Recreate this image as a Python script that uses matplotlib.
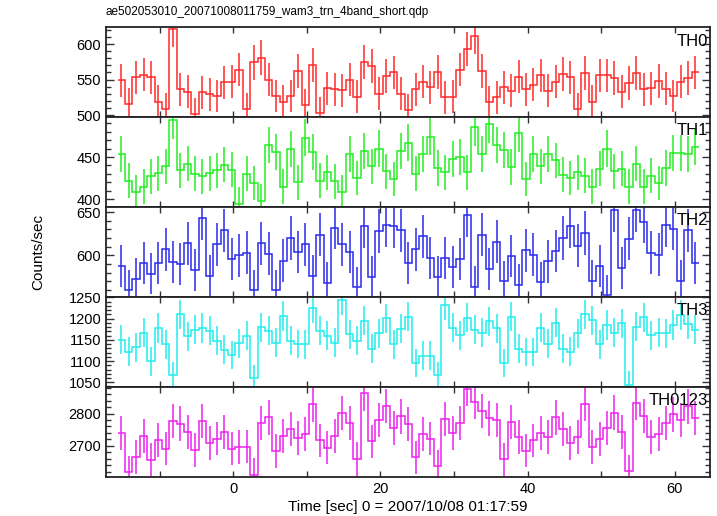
import numpy as np
import matplotlib
matplotlib.use("Agg")
import matplotlib.pyplot as plt
from matplotlib.ticker import MultipleLocator, FixedLocator

plt.rcParams['font.family'] = ['Liberation Sans', 'DejaVu Sans']

title = "ae502053010_20071008011759_wam3_trn_4band_short.qdp"
xlabel = "Time [sec] 0 = 2007/10/08 01:17:59"
ylabel = "Counts/sec"

t_start = -15.2
bin_width = 1.0

th0 = [549, 515, 553, 557, 553, 519, 509, 621, 536, 533, 501, 532, 529, 527, 546, 547,
       564, 508, 574, 581, 550, 527, 519, 527, 562, 514, 571, 503, 538, 536, 535, 550,
       526, 575, 569, 530, 555, 560, 530, 507, 536, 547, 539, 561, 525, 526, 564, 593,
       611, 562, 518, 525, 539, 534, 554, 536, 543, 556, 534, 547, 558, 553, 509, 559,
       519, 556, 556, 552, 533, 545, 559, 536, 538, 548, 537, 527, 547, 552, 560]
th1 = [454, 422, 408, 415, 427, 431, 439, 494, 434, 442, 430, 427, 431, 434, 441, 435,
       394, 430, 419, 398, 464, 456, 415, 459, 420, 473, 456, 422, 432, 421, 408, 454,
       425, 457, 439, 460, 433, 424, 457, 467, 430, 454, 474, 437, 432, 448, 450, 432,
       485, 454, 489, 464, 458, 438, 478, 424, 454, 439, 454, 446, 429, 425, 432, 428,
       415, 436, 460, 433, 436, 415, 442, 415, 428, 419, 437, 455, 455, 454, 462]
th2 = [588, 560, 573, 591, 579, 591, 607, 592, 590, 614, 583, 643, 576, 613, 629, 596,
       600, 603, 560, 614, 602, 560, 594, 620, 604, 613, 576, 624, 568, 632, 613, 604,
       563, 634, 575, 628, 635, 634, 629, 591, 607, 622, 597, 575, 597, 587, 596, 647,
       564, 624, 584, 616, 570, 599, 566, 606, 601, 569, 593, 605, 620, 634, 611, 626,
       571, 588, 554, 652, 586, 619, 652, 639, 603, 601, 635, 631, 571, 629, 591]
th3 = [1150, 1122, 1132, 1167, 1099, 1178, 1139, 1066, 1210, 1158, 1174, 1178, 1172, 1148, 1127, 1115,
       1142, 1160, 1059, 1180, 1172, 1143, 1206, 1148, 1140, 1139, 1224, 1172, 1160, 1143, 1245, 1163,
       1148, 1195, 1129, 1165, 1201, 1139, 1176, 1205, 1095, 1113, 1113, 1066, 1231, 1179, 1161, 1202,
       1174, 1167, 1194, 1177, 1095, 1205, 1129, 1121, 1121, 1179, 1141, 1190, 1129, 1122, 1165, 1210,
       1196, 1139, 1185, 1167, 1189, 1044, 1181, 1203, 1161, 1167, 1165, 1185, 1208, 1187, 1174]
th0123 = [2741, 2619, 2666, 2730, 2658, 2718, 2692, 2778, 2769, 2744, 2688, 2778, 2708, 2723, 2744, 2692,
          2697, 2698, 2612, 2772, 2788, 2685, 2730, 2752, 2725, 2738, 2828, 2717, 2695, 2731, 2801, 2770,
          2660, 2862, 2714, 2781, 2823, 2754, 2791, 2768, 2665, 2736, 2723, 2637, 2782, 2739, 2771, 2877,
          2837, 2807, 2785, 2781, 2659, 2773, 2728, 2686, 2717, 2740, 2729, 2788, 2751, 2710, 2729, 2829,
          2696, 2721, 2756, 2803, 2743, 2622, 2833, 2793, 2728, 2738, 2772, 2797, 2780, 2822, 2786]

series = [th0, th1, th2, th3, th0123]
names = ["TH0", "TH1", "TH2", "TH3", "TH0123"]
colors = ["#ff2a2a", "#22ee22", "#2a2aee", "#22eeee", "#ee22ee"]
ylims = [(497, 623.5), (390.6, 497.2), (552, 655.7), (1039, 1251), (2605, 2882)]
yticks = [[500, 550, 600], [400, 450], [600, 650], [1050, 1100, 1150, 1200, 1250], [2700, 2800]]
yminor = [10, 10, 10, 10, 20]
xlim = (-17.3, 64.8)

fig = plt.figure(figsize=(7.17, 5.16), dpi=100)
left, right = 106 / 717, 710 / 717
top_px, h_px = 27.3, 89.9
axes = []
for k in range(5):
    y0 = 1 - (top_px + h_px * (k + 1)) / 516
    ax = fig.add_axes([left, y0, right - left, h_px / 516])
    axes.append(ax)
    v = np.array(series[k], dtype=float)
    n = len(v)
    edges = t_start - bin_width / 2 + bin_width * np.arange(n + 1)
    centers = t_start + bin_width * np.arange(n)
    err = np.sqrt(v / bin_width)
    ax.stairs(v, edges, baseline=None, color=colors[k], lw=1.1)
    ax.errorbar(centers, v, yerr=err, fmt='none', ecolor=colors[k], elinewidth=1.1, capsize=0)
    ax.set_xlim(*xlim)
    ax.set_ylim(*ylims[k])
    ax.yaxis.set_major_locator(FixedLocator(yticks[k]))
    ax.yaxis.set_minor_locator(MultipleLocator(yminor[k]))
    ax.xaxis.set_major_locator(MultipleLocator(20))
    ax.xaxis.set_minor_locator(MultipleLocator(10))
    ax.tick_params(which='both', direction='in', top=True, right=True, labelsize=10.5,
                   color='#333333', width=1.0)
    ax.tick_params(which='major', length=6)
    ax.tick_params(which='minor', length=3.5)
    ax.tick_params(axis='x', which='both', length=4)
    for s in ax.spines.values():
        s.set_linewidth(1.3)
        s.set_color('#222222')
    if k < 4:
        ax.tick_params(axis='x', labelbottom=False)
    ax.text(0.997, 0.93, names[k], transform=ax.transAxes, ha='right', va='top', fontsize=12)

axes[-1].set_xlabel(xlabel, fontsize=11, labelpad=3)
fig.text(38 / 717, 1 - 252 / 516, ylabel, rotation=90, ha='center', va='center', fontsize=11)
fig.text(left, 1 - 12 / 516, title, ha='left', va='center', fontsize=8.5)

fig.savefig("out.png", dpi=100)
